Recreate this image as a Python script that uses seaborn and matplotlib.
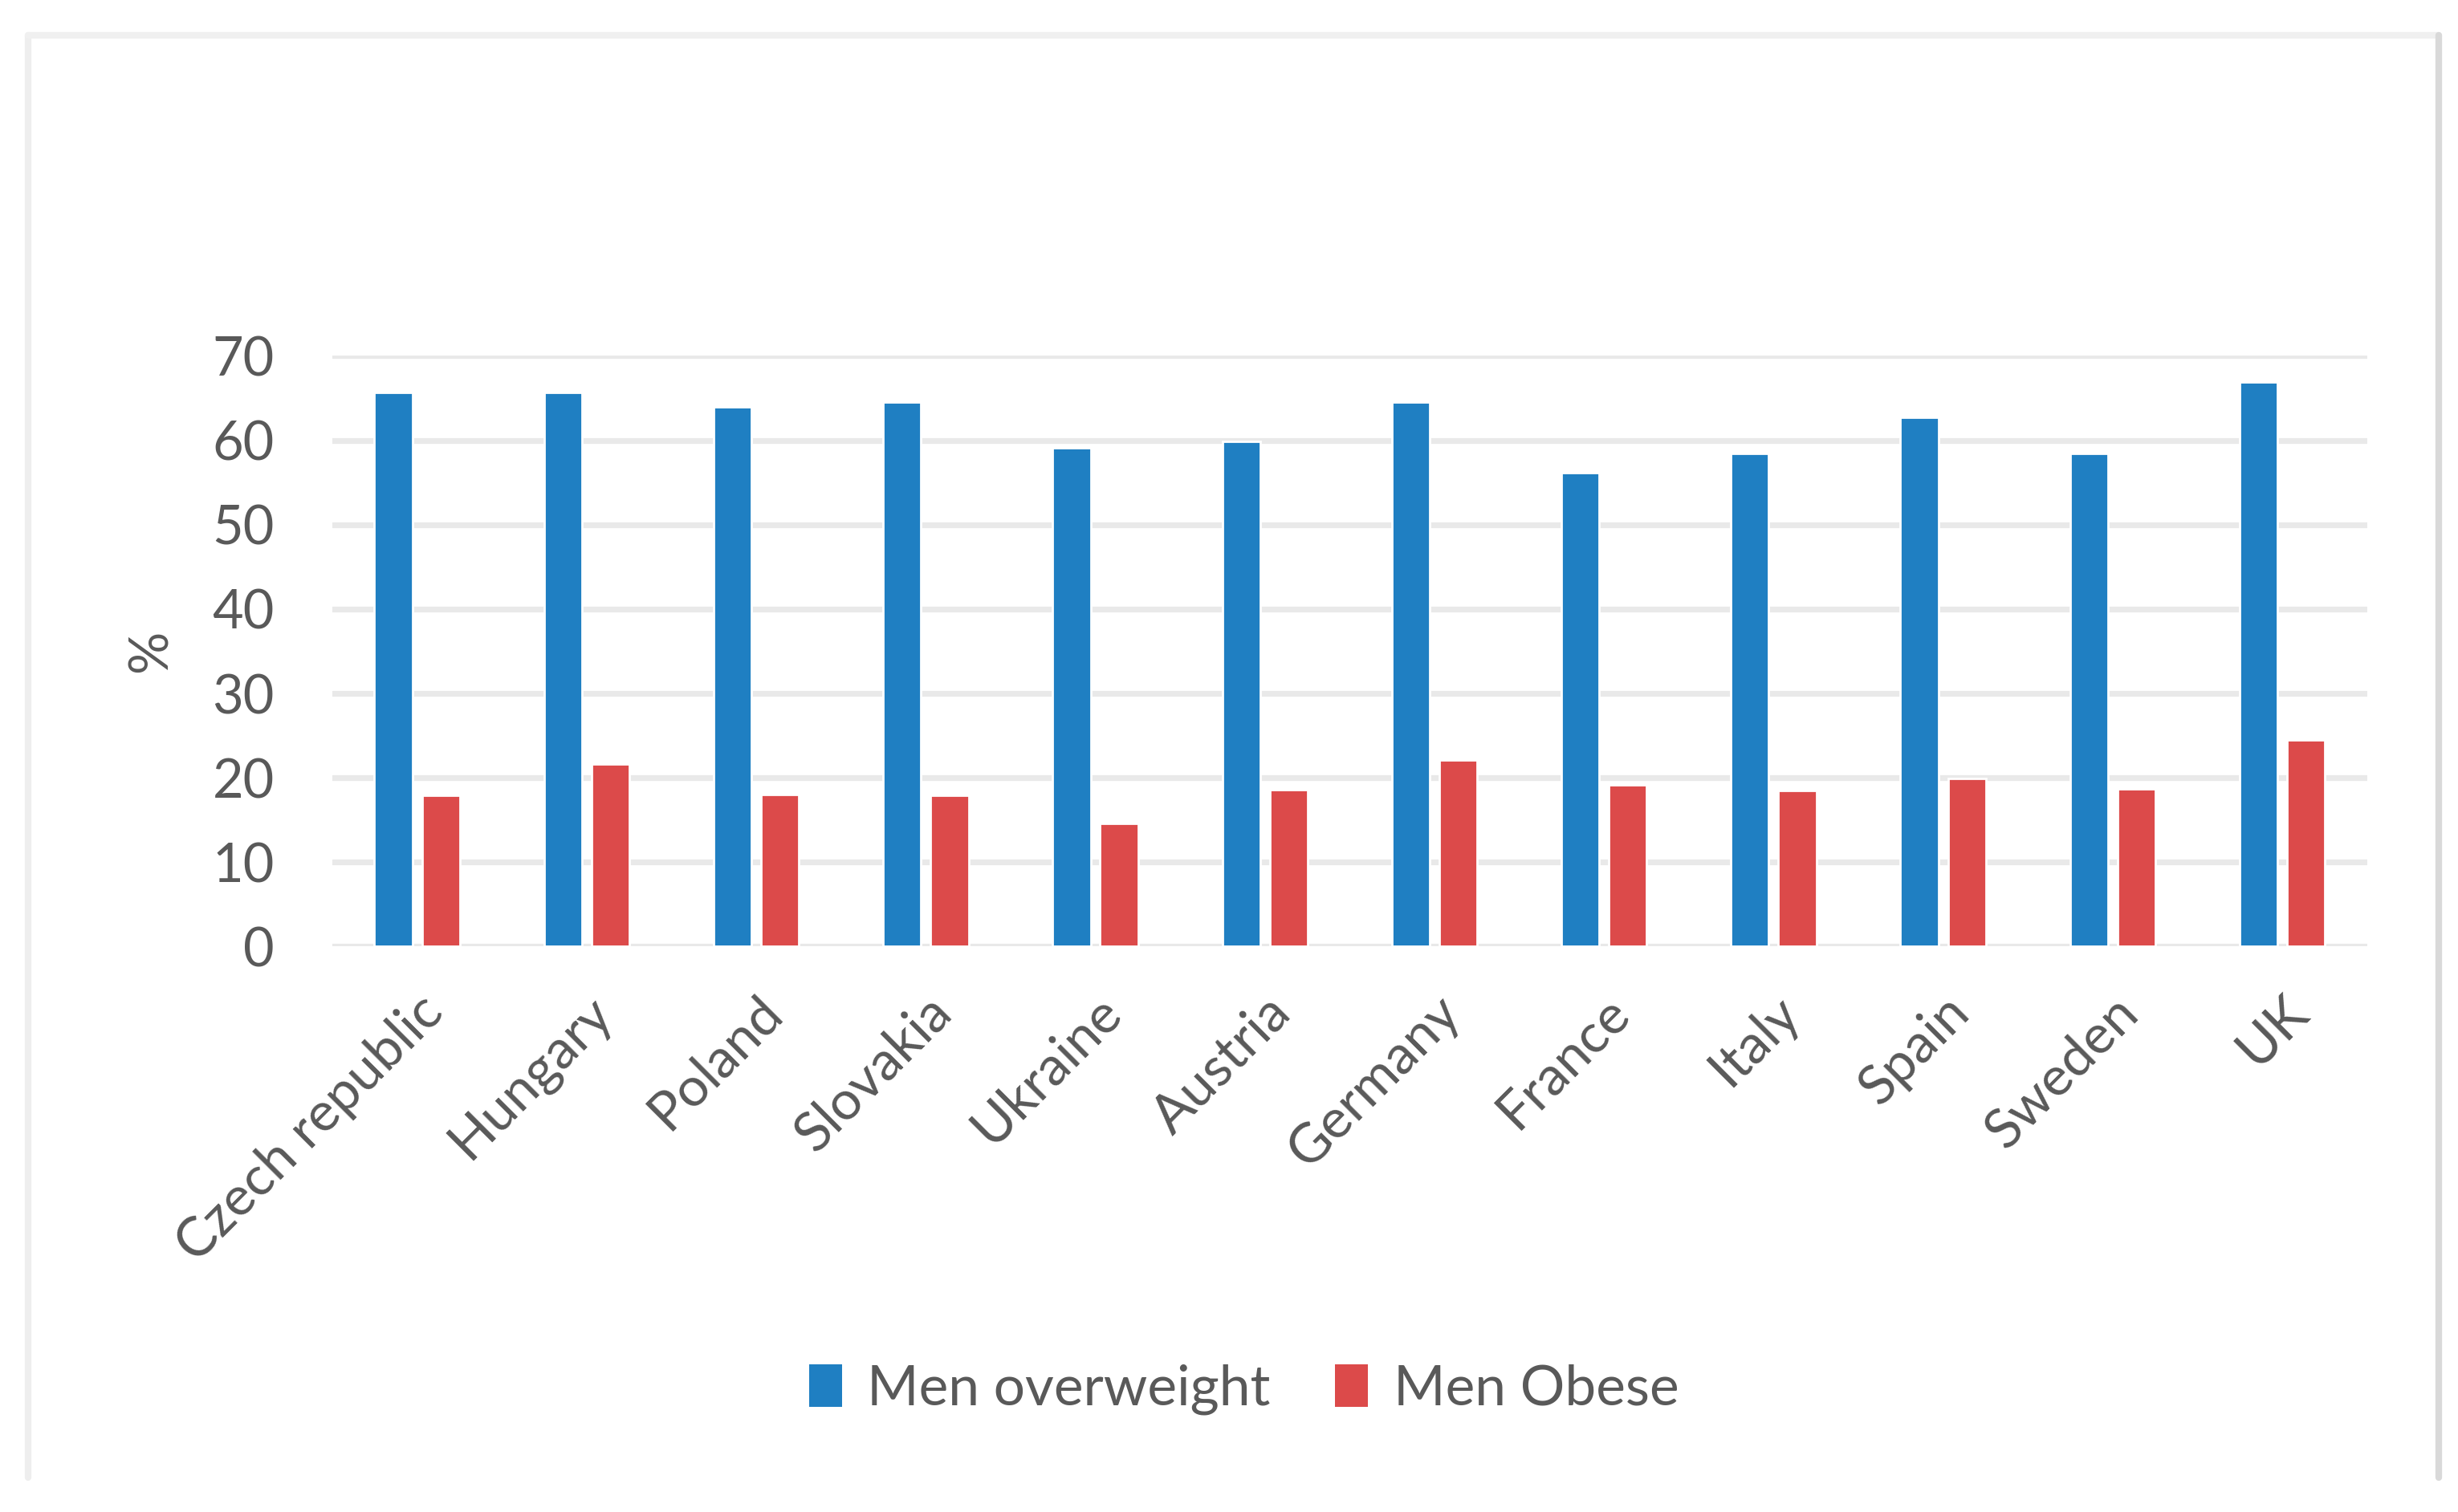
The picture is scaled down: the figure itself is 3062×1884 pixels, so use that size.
import matplotlib
matplotlib.use("Agg")
import matplotlib.pyplot as plt
import seaborn as sns
import pandas as pd
from matplotlib.lines import Line2D
from matplotlib.patches import Patch

countries = ["Czech republic", "Hungary", "Poland", "Slovakia", "Ukraine", "Austria",
             "Germany", "France", "Italy", "Spain", "Sweden", "UK"]
men_overweight = [65.7, 65.7, 64.0, 64.5, 59.1, 59.9, 64.5, 56.2, 58.4, 62.7, 58.4, 66.9]
men_obese = [17.9, 21.6, 18.0, 17.9, 14.6, 18.6, 22.1, 19.2, 18.5, 19.9, 18.7, 24.5]
series_names = ["Men overweight", "Men Obese"]
yticks = [0, 10, 20, 30, 40, 50, 60, 70]

df = pd.DataFrame({
    "country": countries * 2,
    "value": men_overweight + men_obese,
    "series": [series_names[0]] * len(countries) + [series_names[1]] * len(countries),
})

sns.set_theme(style="white")
plt.rcParams["font.family"] = ["Lato", "DejaVu Sans"]

W, H = 3062, 1884
dpi = 200
fig = plt.figure(figsize=(W / dpi, H / dpi), dpi=dpi)
ax = fig.add_axes([0.1352, 0.374, 0.963 - 0.1352, 0.7646 - 0.374])

palette = {series_names[0]: "#1f7fc2", series_names[1]: "#dc4a4a"}
sns.barplot(data=df, x="country", y="value", hue="series", order=countries,
            hue_order=series_names, palette=palette, width=0.56, gap=0.2,
            saturation=1, ax=ax, legend=False)

ax.set_ylim(0, 70)
ax.set_yticks(yticks)
ax.set_xlim(-0.5, len(countries) - 0.5)
for y in yticks:
    ax.axhline(y, color="#e9e9e9", lw=2.6, zorder=0)
ax.set_axisbelow(True)
for s in ax.spines.values():
    s.set_visible(False)
ax.tick_params(axis="both", length=0, colors="#595959")
ax.tick_params(axis="y", labelsize=24, pad=26)
ax.tick_params(axis="x", labelsize=24.5, pad=18)
plt.setp(ax.get_xticklabels(), rotation=45, ha="right", rotation_mode="anchor")
ax.set_xlabel("")
ax.set_ylabel("%", color="#595959", fontsize=24, labelpad=16)

handles = [Patch(facecolor=palette[n], edgecolor="none") for n in series_names]
fig.legend(handles, series_names, loc="center", bbox_to_anchor=(0.506, 0.081),
           ncol=2, frameon=False, fontsize=25, labelcolor="#595959",
           handlelength=0.6, handleheight=0.8, handletextpad=0.45, columnspacing=1.15)

# outer chart frame (left, top, right)
fx0, fx1 = 35 / W, 3038 / W
fy0, fy1 = 1 - 1841 / H, 1 - 44 / H
fig.add_artist(Line2D([fx0, fx0], [fy0, fy1], color="#eeeeee", lw=3, transform=fig.transFigure))
fig.add_artist(Line2D([fx0, fx1], [fy1, fy1], color="#f0f0f0", lw=3, transform=fig.transFigure))
fig.add_artist(Line2D([fx1, fx1], [fy0, fy1], color="#d9d9d9", lw=3, transform=fig.transFigure))

fig.savefig("out.png", dpi=dpi, facecolor="white")
